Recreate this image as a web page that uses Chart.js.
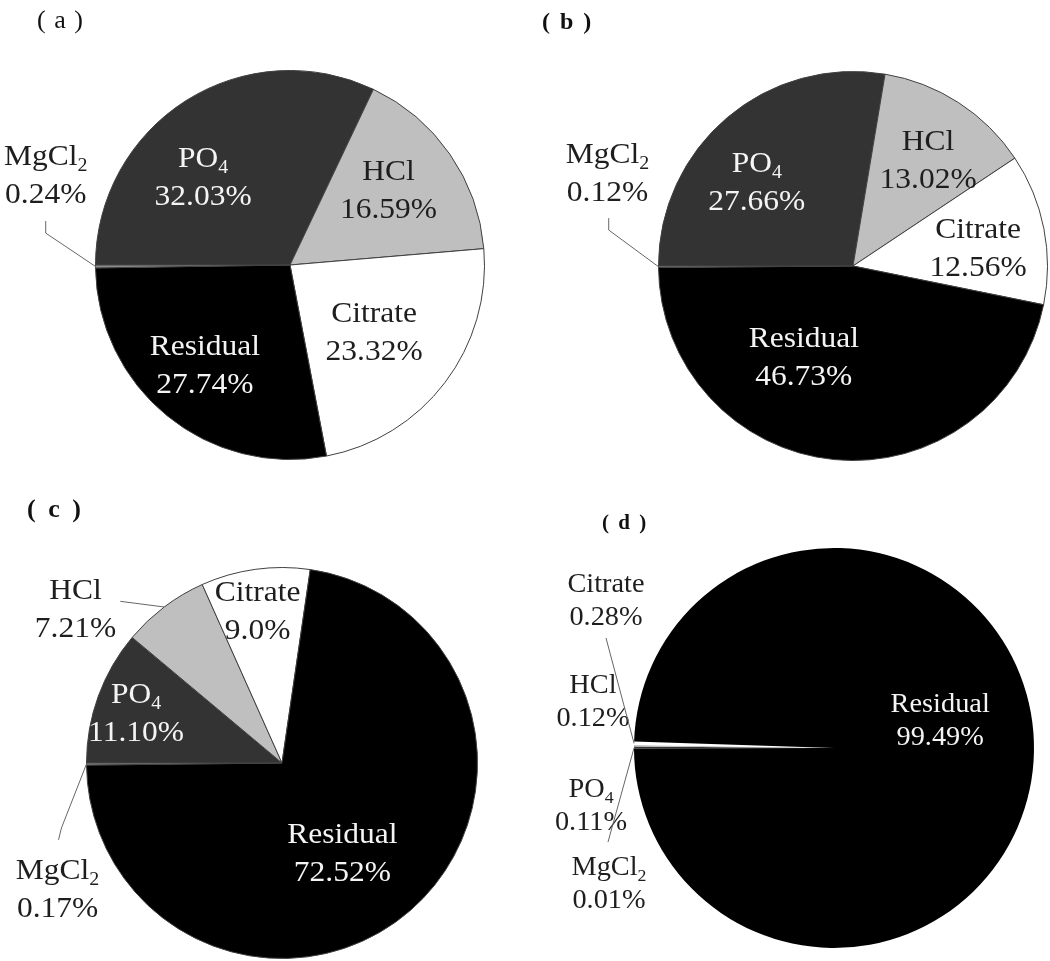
<!DOCTYPE html>
<html>
<head>
<meta charset="utf-8">
<script src="https://cdn.jsdelivr.net/npm/chart.js@4.4.1/dist/chart.umd.min.js"></script>
<style>
  html, body { margin: 0; padding: 0; background: #fff; }
  #page { position: relative; width: 1050px; height: 961px; overflow: hidden; }
  canvas { position: absolute; }
  .tag { position: absolute; font-family: 'Liberation Serif', 'Times New Roman', serif; color: #111; white-space: pre; line-height: 1; }
</style>
</head>
<body>
<div id="page">
  <canvas id="pieA" width="525" height="480" style="left:0;top:0"></canvas>
  <canvas id="pieB" width="525" height="480" style="left:525px;top:0"></canvas>
  <canvas id="pieC" width="525" height="481" style="left:0;top:480px"></canvas>
  <canvas id="pieD" width="525" height="481" style="left:525px;top:480px"></canvas>
  <div class="tag" style="left:37px;top:7px;font-size:26px;letter-spacing:1px">( a )</div>
  <div class="tag" style="left:542px;top:9px;font-size:24px;font-weight:bold;letter-spacing:2px">( b )</div>
  <div class="tag" style="left:27px;top:496px;font-size:26px;font-weight:bold;letter-spacing:3px">( c )</div>
  <div class="tag" style="left:602px;top:512px;font-size:21px;font-weight:bold;letter-spacing:2px">( d )</div>
</div>
<script>
// slice order is clockwise starting from 9 o'clock
const categories = ['PO4', 'HCl', 'Citrate', 'Residual', 'MgCl2'];
const valuesA = [32.03, 16.59, 23.32, 27.74, 0.24];
const valuesB = [27.66, 13.02, 12.56, 46.73, 0.12];
const valuesC = [11.10, 7.21, 9.0, 72.52, 0.17];
const valuesD = [0.11, 0.12, 0.28, 99.49, 0.01];
const decimalsC = [2, 2, 1, 2, 2];

const sliceColors = ['#333333', '#bfbfbf', '#ffffff', '#000000', '#8c8c8c'];

function isDark(hex) {
  const n = parseInt(hex.slice(1), 16);
  const r = (n >> 16) & 255, g = (n >> 8) & 255, b = n & 255;
  return (0.299 * r + 0.587 * g + 0.114 * b) / 255 < 0.45;
}

function drawRich(ctx, text, x, y, size) {
  const m = text.match(/^(.*?[^\d.%])(\d)$/);
  const main = m ? m[1] : text, sub = m ? m[2] : '';
  const subSize = Math.round(size * 0.62);
  ctx.font = size + "px 'Liberation Serif'";
  const w1 = ctx.measureText(main).width;
  ctx.font = subSize + "px 'Liberation Serif'";
  const w2 = sub ? ctx.measureText(sub).width : 0;
  const sx = -(w1 + w2) / 2;
  ctx.save();
  ctx.translate(x, y);
  ctx.scale(1.05, 1);
  ctx.textAlign = 'left';
  ctx.font = size + "px 'Liberation Serif'";
  ctx.fillText(main, sx, 0);
  if (sub) {
    ctx.font = subSize + "px 'Liberation Serif'";
    ctx.fillText(sub, sx + w1, size * 0.2);
  }
  ctx.restore();
}

const pieLabels = {
  id: 'pieLabels',
  afterDatasetsDraw(chart, args, opts) {
    const ctx = chart.ctx;
    const ds = chart.data.datasets[0];
    const meta = chart.getDatasetMeta(0);
    meta.data.forEach((arc, i) => {
      const p = opts.place[i];
      const R = arc.outerRadius;
      const mid = (arc.startAngle + arc.endAngle) / 2;
      let x, y;
      if (p.out) {
        x = arc.x + p.out[0] * R;
        y = arc.y + p.out[1] * R;
      } else {
        const a = mid + (p.da || 0) * Math.PI / 180;
        x = arc.x + Math.cos(a) * p.r * R;
        y = arc.y + Math.sin(a) * p.r * R;
      }
      if (p.lead) {
        ctx.save();
        ctx.strokeStyle = '#666';
        ctx.lineWidth = 1;
        ctx.beginPath();
        p.lead.forEach((q, k) => {
          const px = arc.x + q[0] * R, py = arc.y + q[1] * R;
          if (k) ctx.lineTo(px, py); else ctx.moveTo(px, py);
        });
        ctx.lineTo(arc.x + Math.cos(mid) * R, arc.y + Math.sin(mid) * R);
        ctx.stroke();
        ctx.restore();
      }
      const size = opts.size, lh = opts.lineHeight;
      const dec = opts.decimals ? opts.decimals[i] : 2;
      ctx.save();
      ctx.fillStyle = (!p.out && isDark(ds.backgroundColor[i])) ? '#f4f4f4' : '#1e1e1e';
      ctx.textBaseline = 'alphabetic';
      drawRich(ctx, chart.data.labels[i], x, y - lh / 2 + size * 0.33, size);
      drawRich(ctx, ds.data[i].toFixed(dec) + '%', x, y + lh / 2 + size * 0.33, size);
      ctx.restore();
    });
  }
};

function makePie(id, values, padding, border, labelOpts) {
  return new Chart(document.getElementById(id), {
    type: 'pie',
    data: {
      labels: categories,
      datasets: [{
        data: values,
        backgroundColor: sliceColors,
        borderColor: '#404040',
        borderWidth: border
      }]
    },
    options: {
      responsive: false,
      animation: false,
      events: [],
      rotation: 270,
      layout: { padding: padding },
      plugins: {
        legend: { display: false },
        tooltip: { enabled: false },
        pieLabels: labelOpts
      }
    },
    plugins: [pieLabels]
  });
}

makePie('pieA', valuesA, { left: 95, top: 70, right: 40, bottom: 20 }, 1, {
  size: 30, lineHeight: 38,
  place: [
    { r: 0.64, da: -12 },
    { r: 0.64, da: -3 },
    { r: 0.55, da: 1 },
    { r: 0.67, da: 1.6 },
    { out: [-1.256, -0.467], lead: [[-1.256, -0.226], [-1.256, -0.164]] }
  ]
});

makePie('pieB', valuesB, { left: 133, top: 71, right: 2, bottom: 19 }, 1, {
  size: 30, lineHeight: 38,
  place: [
    { r: 0.66, da: -8.3 },
    { r: 0.67, da: 2.3 },
    { r: 0.65, da: 2.7 },
    { r: 0.53, da: 23 },
    { out: [-1.262, -0.482], lead: [[-1.256, -0.246], [-1.256, -0.185]] }
  ]
});

makePie('pieC', valuesC, { left: 86, top: 87, right: 47, bottom: 2 }, 1, {
  size: 30, lineHeight: 38, decimals: decimalsC,
  place: [
    { r: 0.79, da: -0.9 },
    { out: [-1.056, -0.791], lead: [[-0.827, -0.827]] },
    { r: 0.79, da: -1.2 },
    { r: 0.55, da: 7 },
    { out: [-1.148, 0.638], lead: [[-1.143, 0.393], [-1.128, 0.332]] }
  ]
});

makePie('pieD', valuesD, { left: 106, top: 68, right: 13, bottom: 13 }, 0, {
  size: 27, lineHeight: 33,
  place: [
    { out: [-1.215, 0.285] },
    { out: [-1.205, -0.235] },
    { out: [-1.14, -0.74], lead: [[-1.14, -0.55]] },
    { r: 0.55, da: -16 },
    { out: [-1.125, 0.675], lead: [[-1.13, 0.47]] }
  ]
});
</script>
</body>
</html>
